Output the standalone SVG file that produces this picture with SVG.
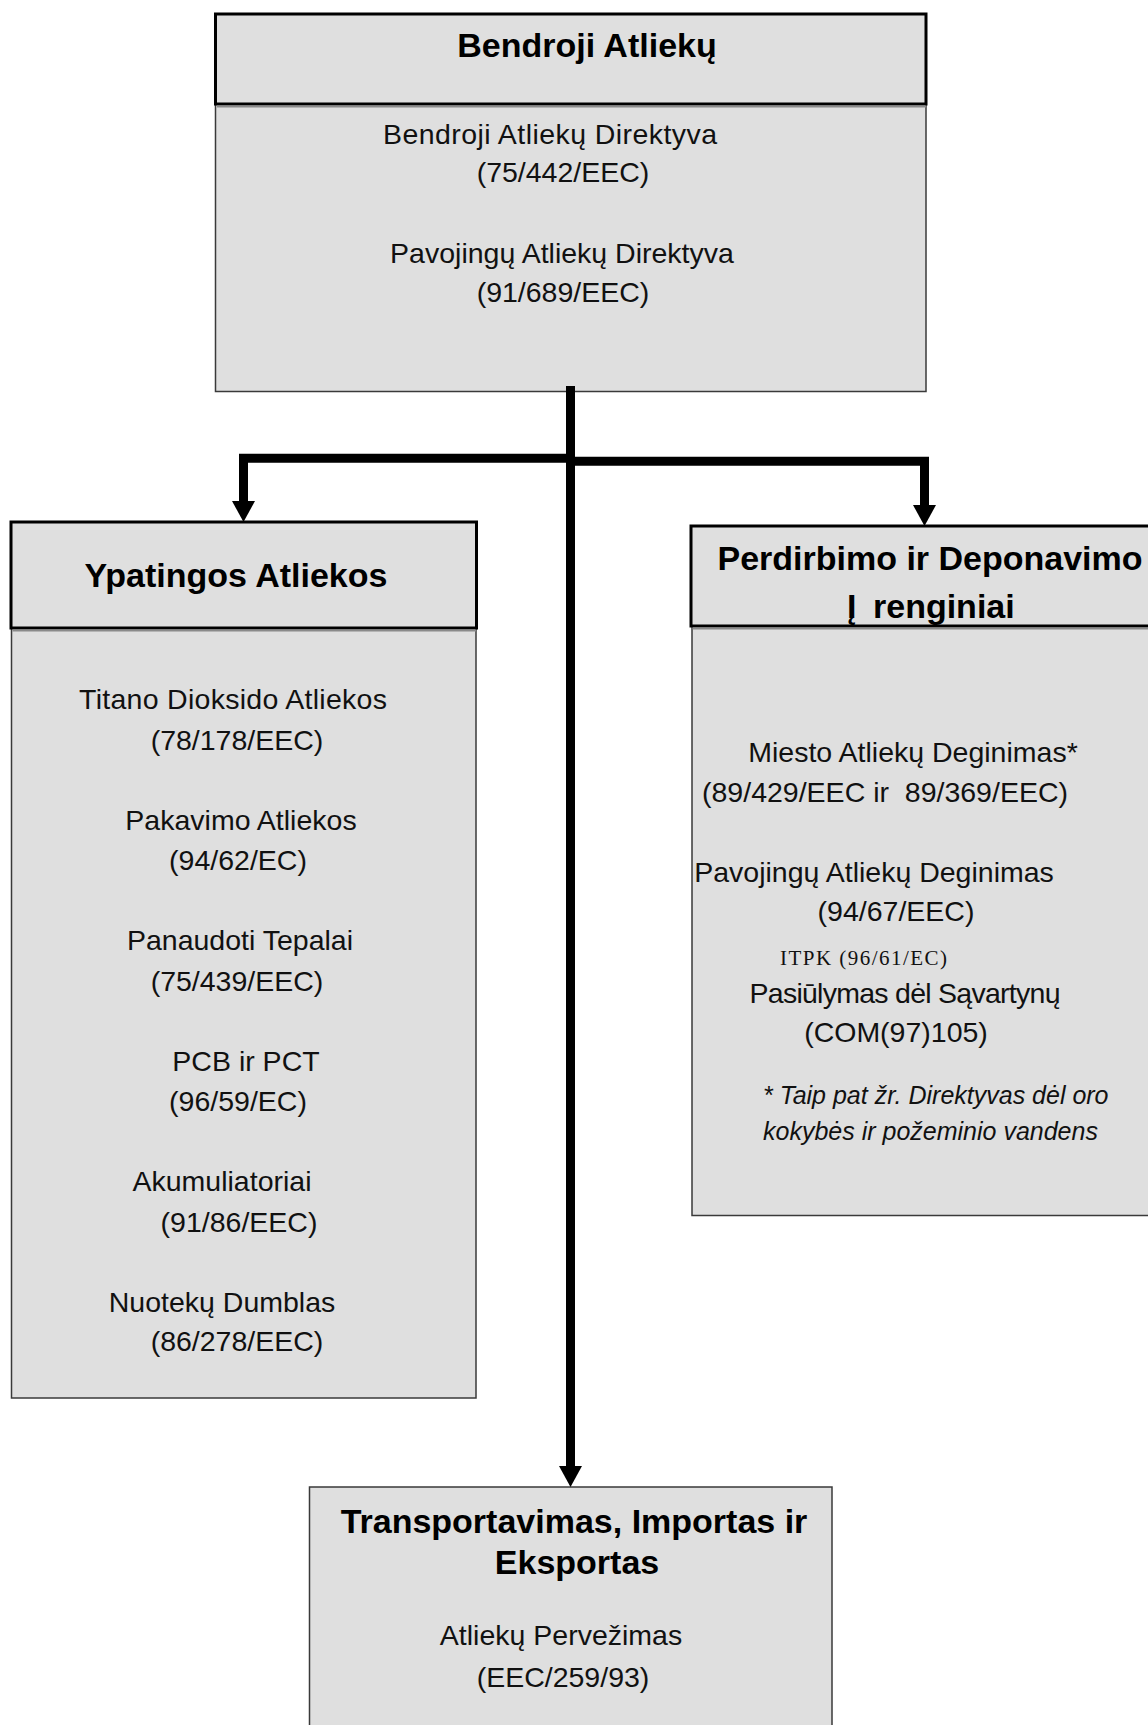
<svg xmlns="http://www.w3.org/2000/svg" width="1148" height="1725" viewBox="0 0 1148 1725">
  <style>
    .bg { fill: #ffffff; }
    .head { fill: #dfdfdf; stroke: #000000; stroke-width: 3; }
    .shade { stroke: #8a8a8a; stroke-width: 2; }
    .body { fill: #dfdfdf; stroke: #3a3a3a; stroke-width: 1.5; }
    .t { font-family: "Liberation Sans", Arial, sans-serif; font-size: 28.5px; fill: #111111; text-anchor: middle; }
    .h { font-family: "Liberation Sans", Arial, sans-serif; font-size: 34px; font-weight: bold; fill: #000000; text-anchor: middle; }
    .it { font-family: "Liberation Sans", Arial, sans-serif; font-size: 25px; font-style: italic; fill: #111111; }
    .serif { font-family: "Liberation Serif", "Times New Roman", serif; font-size: 21px; fill: #111111; }
    .conn { fill: none; stroke: #000000; stroke-width: 9; stroke-linejoin: miter; }
  </style>
  <defs>
    <marker id="arrow" markerUnits="userSpaceOnUse" markerWidth="24" markerHeight="24" viewBox="0 -12 22 24" refX="0" refY="0" orient="auto">
      <path d="M0,-11.5 L21,0 L0,11.5 z" fill="#000000"/>
    </marker>
  </defs>

  <rect class="bg" x="0" y="0" width="1148" height="1725"/>

  <!-- General waste framework -->
  <g id="node-general">
    <rect class="body" x="215.5" y="104" width="710.5" height="287.5"/>
    <rect class="head" x="215.5" y="14" width="710.5" height="90"/>
    <line class="shade" x1="217" y1="106.5" x2="926" y2="106.5"/>
    <text class="h" x="587" y="57">Bendroji Atliekų</text>
    <text class="t" x="550" y="144" textLength="334">Bendroji Atliekų Direktyva</text>
    <text class="t" x="563" y="182">(75/442/EEC)</text>
    <text class="t" x="562" y="263">Pavojingų Atliekų Direktyva</text>
    <text class="t" x="563" y="302">(91/689/EEC)</text>
  </g>

  <!-- Specific waste streams -->
  <g id="node-specific">
    <rect class="body" x="11.5" y="628" width="464.5" height="770"/>
    <rect class="head" x="11" y="522" width="465.5" height="106"/>
    <line class="shade" x1="12.5" y1="630.5" x2="476" y2="630.5"/>
    <text class="h" x="236" y="587">Ypatingos Atliekos</text>
    <text class="t" x="233" y="709" textLength="308">Titano Dioksido Atliekos</text>
    <text class="t" x="237" y="750">(78/178/EEC)</text>
    <text class="t" x="241" y="830">Pakavimo Atliekos</text>
    <text class="t" x="238" y="870">(94/62/EC)</text>
    <text class="t" x="240" y="950">Panaudoti Tepalai</text>
    <text class="t" x="237" y="991">(75/439/EEC)</text>
    <text class="t" x="246" y="1071">PCB ir PCT</text>
    <text class="t" x="238" y="1111">(96/59/EC)</text>
    <text class="t" x="222" y="1191">Akumuliatoriai</text>
    <text class="t" x="239" y="1232">(91/86/EEC)</text>
    <text class="t" x="222" y="1312">Nuotekų Dumblas</text>
    <text class="t" x="237" y="1351">(86/278/EEC)</text>
  </g>

  <!-- Treatment and disposal installations -->
  <g id="node-installations">
    <rect class="body" x="692" y="626" width="470" height="589.5"/>
    <rect class="head" x="691" y="526" width="471" height="100"/>
    <line class="shade" x1="692.5" y1="628.5" x2="1160" y2="628.5"/>
    <text class="h" x="930" y="570">Perdirbimo ir Deponavimo</text>
    <text class="h" x="847" y="618" style="text-anchor:start">Į<tspan x="873">renginiai</tspan></text>
    <text class="t" x="913" y="762">Miesto Atliekų Deginimas*</text>
    <text class="t" x="885" y="802" style="white-space:pre">(89/429/EEC ir  89/369/EEC)</text>
    <text class="t" x="874" y="882">Pavojingų Atliekų Deginimas</text>
    <text class="t" x="896" y="921">(94/67/EEC)</text>
    <text class="serif" x="780" y="965" textLength="167">ITPK (96/61/EC)</text>
    <text class="t" x="905" y="1003" textLength="311">Pasiūlymas dėl Sąvartynų</text>
    <text class="t" x="896" y="1042">(COM(97)105)</text>
    <text class="it" x="763" y="1104">* Taip pat žr. Direktyvas dėl oro</text>
    <text class="it" x="763" y="1140">kokybės ir požeminio vandens</text>
  </g>

  <!-- Transport, import and export -->
  <g id="node-transport">
    <rect class="body" x="309.5" y="1487" width="522.5" height="260"/>
    <text class="h" x="574" y="1533">Transportavimas, Importas ir</text>
    <text class="h" x="577" y="1574">Eksportas</text>
    <text class="t" x="561" y="1645">Atliekų Pervežimas</text>
    <text class="t" x="563" y="1687">(EEC/259/93)</text>
  </g>

  <!-- Connectors -->
  <g id="connectors">
    <path class="conn" d="M570.5,386 V1466" marker-end="url(#arrow)"/>
    <path class="conn" d="M570.5,458.3 H243.5 V501" marker-end="url(#arrow)"/>
    <path class="conn" d="M570.5,461.3 H924.5 V505" marker-end="url(#arrow)"/>
  </g>
</svg>
